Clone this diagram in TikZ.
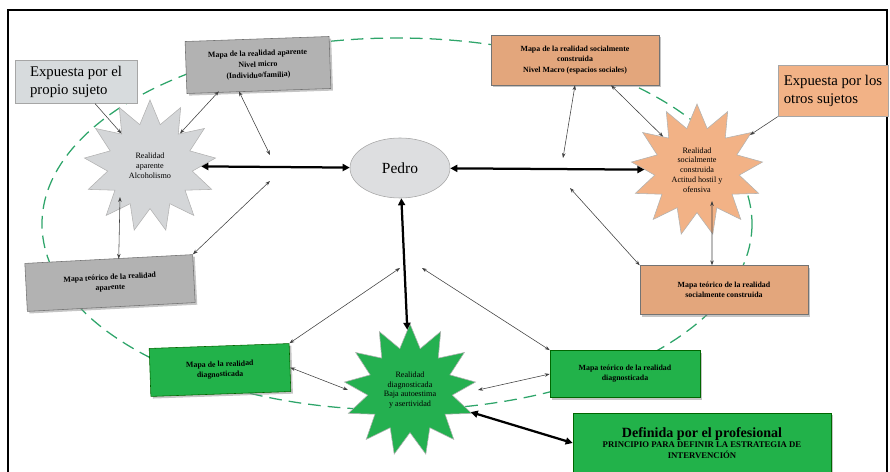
\documentclass[tikz,border=0pt]{standalone}
\usepackage{fontspec}
\setmainfont{Liberation Serif}
\usetikzlibrary{shapes.geometric, arrows.meta, positioning, calc, shadows}
\definecolor{mapgray}{HTML}{B2B2B2}
\definecolor{stargray}{HTML}{D4D6D8}
\definecolor{mappeach}{HTML}{E3A67C}
\definecolor{starpeach}{HTML}{F2B286}
\definecolor{mapgreen}{HTML}{22B24A}
\definecolor{stargreen}{HTML}{24B050}
\definecolor{orbit}{HTML}{2EA56A}
\definecolor{notegray}{HTML}{D7DBDD}
\tikzset{
  map box/.style={
    rectangle, draw=black!55, fill=mapgray, align=center,
    font=\bfseries\fontsize{5.6}{7.2}\selectfont,
    inner sep=2pt, drop shadow={shadow xshift=1.5pt, shadow yshift=-1.5pt, fill=black!45}
  },
  peach box/.style={map box, fill=mappeach},
  green box/.style={map box, fill=mapgreen, draw=green!40!black},
  real star/.style={
    star, star points=13, star point ratio=1.55, draw=black!30,
    minimum size=3.3cm, inner sep=0pt, align=center,
    font=\fontsize{5.8}{7}\selectfont
  },
  note box/.style={
    rectangle, draw=black!35, fill=notegray, align=left,
    font=\fontsize{10.5}{12.5}\selectfont, inner sep=3pt
  },
  thin arrow/.style={{Stealth[length=3.5pt,width=2.5pt]}-{Stealth[length=3.5pt,width=2.5pt]}, draw=black!75, line width=0.4pt},
  one arrow/.style={-{Stealth[length=3.5pt,width=2.5pt]}, draw=black!75, line width=0.4pt},
  thick arrow/.style={{Triangle[length=5pt,width=5pt]}-{Triangle[length=5pt,width=5pt]}, draw=black, line width=1.6pt}
}
\begin{document}
\begin{tikzpicture}[x=0.025cm, y=-0.025cm]
  \useasboundingbox (0,0) rectangle (890,472);
  % frame and orbit
  \draw[black, line width=0.8pt] (8,490) -- (8,10) -- (887,10) -- (887,490);
  \draw[orbit, dashed, dash pattern=on 9pt off 5pt, line width=0.9pt] (397,224) ellipse [x radius=355, y radius=186];

  % side notes
  \node (exp1) [note box, minimum width=3.05cm, minimum height=1.07cm] at (76,82) {Expuesta por el\\propio sujeto};
  \node (exp2) [note box, fill=starpeach, minimum width=2.75cm, minimum height=1.27cm] at (833,91) {Expuesta por los\\otros sujetos};

  % top maps
  \node (mapA) [map box, rotate=2, minimum width=3.6cm, minimum height=1.3cm, font=\bfseries\fontsize{5.6}{7.8}\selectfont] at (258,65) {Mapa de la realidad aparente\\Nivel micro\\(Individuo/familia)};
  \node (mapS) [peach box, minimum width=4.2cm, minimum height=1.25cm] at (575,60) {Mapa de la realidad socialmente\\construida\\Nivel Macro (espacios sociales)};

  % realities
  \node (starA) [real star, fill=stargray] at (150,166) {Realidad\\aparente\\Alcoholismo};
  \node (pedro) [ellipse, draw=black!35, fill=stargray!80, minimum width=2.5cm, minimum height=1.5cm, font=\fontsize{11}{13}\selectfont] at (400,168) {Pedro};
  \node (starS) [real star, fill=starpeach] at (697,170) {Realidad\\socialmente\\construida\\Actitud hostil y\\ofensiva};
  \node (starD) [real star, fill=stargreen] at (410,390) {Realidad\\diagnosticada\\Baja autoestima\\y asertividad};

  % theoretical maps
  \node (teoA) [map box, rotate=3, minimum width=4.2cm, minimum height=1.2cm] at (110,283) {Mapa teórico de la realidad\\aparente};
  \node (teoS) [peach box, minimum width=4.2cm, minimum height=1.22cm] at (724,290) {Mapa teórico de la realidad\\socialmente construida};
  \node (mapD) [green box, rotate=2, minimum width=3.5cm, minimum height=1.2cm] at (220,370) {Mapa de la realidad\\diagnosticada};
  \node (teoD) [green box, minimum width=3.75cm, minimum height=1.18cm] at (625,374) {Mapa teórico de la realidad\\diagnosticada};
  \node (prof) [green box, minimum width=6.45cm, minimum height=1.5cm, font=\bfseries\fontsize{6.2}{7.2}\selectfont] at (702,443)
    {{\fontsize{10}{11.5}\selectfont Definida por el profesional}\\PRINCIPIO PARA DEFINIR LA ESTRATEGIA DE\\INTERVENCIÓN};

  % loose ends near the thick arrows
  \coordinate (hubA) at (270,155);
  \coordinate (hubB) at (270,181);
  \coordinate (hubC) at (563,158);
  \coordinate (hubD) at (570,188);
  \coordinate (hubE) at (400,268);
  \coordinate (hubF) at (422,268);

  % thick links
  \draw [thick arrow] (starA) -- (pedro);
  \draw [thick arrow] (pedro) -- (starS);
  \draw [thick arrow] (pedro) -- (starD);
  \draw [thick arrow] (starD.-20) -- (prof.west);

  % thin links
  \draw [one arrow] (exp1) -- (starA);
  \draw [one arrow] (exp2.south west) -- (starS);
  \draw [thin arrow] ([xshift=-1cm]mapA.south) -- (starA);
  \draw [thin arrow] ([xshift=-0.5cm]mapA.south) -- (hubA);
  \draw [thin arrow] (hubB) -- (teoA.north east);
  \draw [thin arrow] ([xshift=-0.75cm,yshift=0.3cm]starA.south) -- ([xshift=0.25cm]teoA.north);
  \draw [thin arrow] (mapS.south) -- (hubC);
  \draw [thin arrow] ([xshift=0.9cm]mapS.south) -- (starS);
  \draw [thin arrow] (hubD) -- (teoS.north west);
  \draw [thin arrow] ([xshift=0.375cm,yshift=0.3cm]starS.south) -- ([xshift=-0.3cm]teoS.north);
  \draw [thin arrow] (hubE) -- (mapD.north east);
  \draw [thin arrow] (hubF) -- (teoD.north west);
  \draw [thin arrow] (mapD.east) -- ([xshift=-1.55cm]starD.center);
  \draw [thin arrow] ([xshift=1.7cm]starD.center) -- (teoD.west);
\end{tikzpicture}
\end{document}
